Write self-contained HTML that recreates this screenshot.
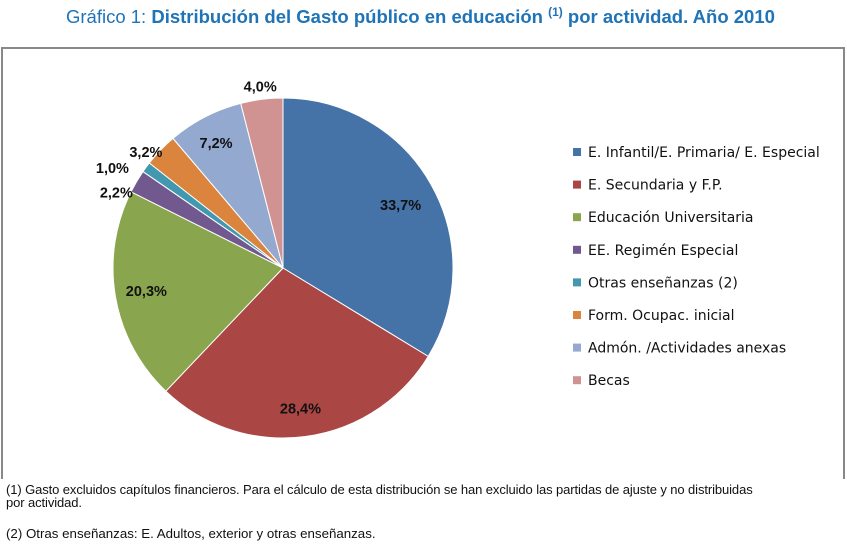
<!DOCTYPE html>
<html><head><meta charset="utf-8"><style>
body{margin:0;width:847px;height:547px;background:#fff;font-family:"Liberation Sans",sans-serif;position:relative;overflow:hidden}
.t{position:absolute}
</style></head><body>
<div class="t" style="left:66px;top:5px;font-size:18.5px;color:#1f73b7;white-space:nowrap">Gráfico 1: <b>Distribución del Gasto público en educación <sup style="font-size:12px">(1)</sup> por actividad. Año 2010</b></div>
<div class="t" style="left:1px;top:47px;width:840px;height:430px;border:2px solid #888;border-bottom:none"></div>
<svg class="t" style="left:0;top:0" width="847" height="547">
<g id="pie"></g><g id="lab"></g><g id="leg"></g>
</svg>
<div class="t" style="left:6px;top:483px;font-size:13px;line-height:13px;color:#111;width:765px;letter-spacing:-0.1px">(1) Gasto excluidos capítulos financieros. Para el cálculo de esta distribución se han excluido las partidas de ajuste y no distribuidas por actividad.</div>
<div class="t" style="left:6px;top:526px;font-size:13.3px;color:#111">(2) Otras enseñanzas: E. Adultos, exterior y otras enseñanzas.</div>
<script>
const categories=["E. Infantil/E. Primaria/ E. Especial","E. Secundaria y F.P.","Educación Universitaria","EE. Regimén Especial","Otras enseñanzas (2)","Form. Ocupac. inicial","Admón. /Actividades anexas","Becas"];
const values=[33.7,28.4,20.3,2.2,1.0,3.2,7.2,4.0];
const labels=["33,7%","28,4%","20,3%","2,2%","1,0%","3,2%","7,2%","4,0%"];
const colors=["#4572A7","#AA4643","#89A54E","#71588F","#4198AF","#DB843D","#93A9CF","#D19392"];
const labelNudgeX=[2,0,-6,-10,-24,-6,-6,0];
const labelNudgeY=[2,9,0,17,8,10,-7,-1];
const NS="http://www.w3.org/2000/svg";
const cx=283,cy=268,r=170;
const total=values.reduce((a,b)=>a+b,0);
const pie=document.getElementById('pie'),lab=document.getElementById('lab'),leg=document.getElementById('leg');
function pt(a,rr){return [cx+rr*Math.sin(a),cy-rr*Math.cos(a)];}
let acc=0;
values.forEach((v,i)=>{
 const a0=acc/total*2*Math.PI;acc+=v;const a1=acc/total*2*Math.PI;
 const p0=pt(a0,r),p1=pt(a1,r);
 const p=document.createElementNS(NS,'path');
 p.setAttribute('d',`M${cx},${cy}L${p0[0]},${p0[1]}A${r},${r} 0 ${a1-a0>Math.PI?1:0} 1 ${p1[0]},${p1[1]}Z`);
 p.setAttribute('fill',colors[i]);p.setAttribute('stroke','#fff');p.setAttribute('stroke-width','1');
 
 
 pie.appendChild(p);
 const am=(a0+a1)/2;const small=v<5;
 const lp=pt(am,small?r+12:r*0.78);
 const t=document.createElementNS(NS,'text');
 t.setAttribute('x',lp[0]+labelNudgeX[i]);t.setAttribute('y',lp[1]+5+labelNudgeY[i]);
 t.setAttribute('text-anchor','middle');t.setAttribute('font-size','14.5');t.setAttribute('font-weight','bold');t.setAttribute('fill','#111');
 t.textContent=labels[i];
 
 
 lab.appendChild(t);
});
categories.forEach((c,i)=>{
 const y=152+i*32.6;
 const g=document.createElementNS(NS,'g');
 
 
 const s=document.createElementNS(NS,'rect');
 s.setAttribute('x',573);s.setAttribute('y',y-4);s.setAttribute('width',8);s.setAttribute('height',8);s.setAttribute('fill',colors[i]);
 const t=document.createElementNS(NS,'text');
 t.setAttribute('x',588);t.setAttribute('y',y+5);t.setAttribute('font-size','14');t.setAttribute('fill','#111');t.setAttribute('font-family','DejaVu Sans, sans-serif');
 t.textContent=c;
 g.appendChild(s);g.appendChild(t);leg.appendChild(g);
});
</script>
</body></html>
